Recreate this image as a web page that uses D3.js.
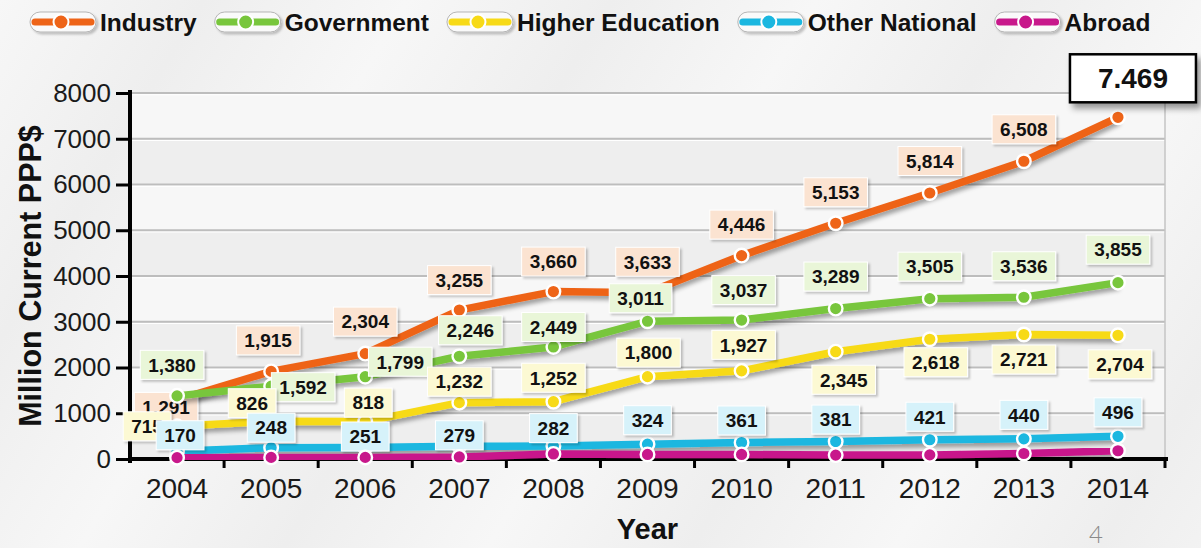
<!DOCTYPE html>
<html><head><meta charset="utf-8">
<script src="https://cdn.jsdelivr.net/npm/d3@7"></script>
<style>
body{margin:0;background:#f0f0f0;}
svg{display:block;font-family:Arial,"Liberation Sans",sans-serif;}
</style>
</head><body>
<svg id="c" width="1201" height="548"></svg>
<script>
// ---------- data ----------
const years = [2004,2005,2006,2007,2008,2009,2010,2011,2012,2013,2014];
const industry        = [1291,1915,2304,3255,3660,3633,4446,5153,5814,6508,7469];
const government      = [1380,1592,1799,2246,2449,3011,3037,3289,3505,3536,3855];
const higherEducation = [715,826,818,1232,1252,1800,1927,2345,2618,2721,2704];
const otherNational   = [170,248,251,279,282,324,361,381,421,440,496];
const abroad          = [30,35,35,45,110,100,100,85,90,120,180];
const yTicks = [0,1000,2000,3000,4000,5000,6000,7000,8000];
const seriesNames = ["Industry","Government","Higher Education","Other National","Abroad"];

// ---------- styling / layout (not data) ----------
const lineColors  = ["#ee6418","#78c63c","#f7da17","#1bb7e0","#c8188b"];
const labelFills  = ["#fbe3d1","#e9f6d8","#fcf9d3","#d6f2fa",null];
const labelOffsets = [
  [[-11,7],[-3,-31],[0,-32],[0,-30],[0,-30],[0,-31],[0,-31],[0,-31],[0,-32],[0,-32],null],
  [[-5,-31],[32,1],[35,-15],[11,-26],[0,-20],[-7,-23],[2,-30],[0,-32],[0,-32],[0,-31],[0,-33]],
  [[-30,0],[-19,-18],[3,-19],[0,-21],[0,-24],[1,-24],[2,-26],[8,28],[6,23],[0,25],[2,29]],
  [[3,-16],[0,-20],[0,-11],[0,-11],[0,-18],[0,-24],[0,-22],[0,-22],[0,-23],[0,-24],[0,-24]],
  null
];
const calloutOffset = [15,-39];

const series = seriesNames.map((name,i)=>({
  name, color: lineColors[i], fill: labelFills[i], offsets: labelOffsets[i],
  values: [industry,government,higherEducation,otherNational,abroad][i]
}));

const svg = d3.select("#c");
const defs = svg.append("defs");

const bg = defs.append("linearGradient").attr("id","bg")
  .attr("gradientUnits","userSpaceOnUse").attr("x1",0).attr("y1",0).attr("x2",150).attr("y2",90)
  .attr("spreadMethod","reflect");
bg.append("stop").attr("offset","0%").attr("stop-color","#f7f7f7");
bg.append("stop").attr("offset","100%").attr("stop-color","#eeeeee");

const shadow = defs.append("filter").attr("id","lineShadow")
  .attr("x","-10%").attr("y","-30%").attr("width","120%").attr("height","160%");
shadow.append("feDropShadow").attr("dx",1).attr("dy",4).attr("stdDeviation",2)
  .attr("flood-color","#000").attr("flood-opacity",0.35);
const boxShadow = defs.append("filter").attr("id","boxShadow")
  .attr("x","-20%").attr("y","-30%").attr("width","150%").attr("height","170%");
boxShadow.append("feDropShadow").attr("dx",2).attr("dy",2).attr("stdDeviation",1.2)
  .attr("flood-color","#000").attr("flood-opacity",0.22);
const callShadow = defs.append("filter").attr("id","callShadow")
  .attr("x","-20%").attr("y","-30%").attr("width","150%").attr("height","170%");
callShadow.append("feDropShadow").attr("dx",4).attr("dy",5).attr("stdDeviation",3)
  .attr("flood-color","#000").attr("flood-opacity",0.4);

svg.append("rect").attr("width",1201).attr("height",548).attr("fill","url(#bg)");

// ---------- scales ----------
const x = d3.scaleBand().domain(years).range([130,1165]).padding(0);
const cx = d => x(d) + x.bandwidth()/2;
const y = d3.scaleLinear().domain([0,8000]).range([459,93]);

// plot bands
const plot = svg.append("g");
plot.selectAll("rect.band").data(yTicks.slice(0,-1)).join("rect")
  .attr("x",x.range()[0]).attr("width",x.range()[1]-x.range()[0])
  .attr("y",d=>y(d+1000)).attr("height",d=>y(d)-y(d+1000))
  .attr("fill",(d,i)=> i%2===0 ? "#eeeeee" : "#f7f7f7");
plot.selectAll("line.grid").data(yTicks.slice(1)).join("line")
  .attr("x1",x.range()[0]).attr("x2",x.range()[1])
  .attr("y1",d=>y(d)).attr("y2",d=>y(d))
  .attr("stroke","#bdbdbd").attr("stroke-width",2);
plot.selectAll("line.gridw").data(yTicks.slice(1)).join("line")
  .attr("x1",x.range()[0]).attr("x2",x.range()[1])
  .attr("y1",d=>y(d)+1.8).attr("y2",d=>y(d)+1.8)
  .attr("stroke","#ffffff").attr("stroke-width",1);
plot.append("line").attr("x1",x.range()[1]).attr("x2",x.range()[1])
  .attr("y1",y(8000)).attr("y2",y(0)).attr("stroke","#c4c4c4").attr("stroke-width",1.5);

// ---------- axes ----------
const yAxis = svg.append("g").attr("transform",`translate(${x.range()[0]},0)`)
  .call(d3.axisLeft(y).tickValues(yTicks).tickFormat(d3.format("d")).tickSize(14).tickPadding(5).tickSizeOuter(0));
yAxis.select(".domain").attr("stroke","#000").attr("stroke-width",4).attr("d",`M0,${y(8000)-3}V${y(0)+4}`);
yAxis.selectAll(".tick line").attr("stroke","#000").attr("stroke-width",3);
yAxis.selectAll(".tick text").attr("font-size",26).attr("fill","#1a1a1a")
  .attr("font-family",'Arial,"Liberation Sans",sans-serif');

const xAxis = svg.append("g").attr("transform",`translate(0,${y(0)})`)
  .call(d3.axisBottom(x).tickSize(0).tickPadding(19));
xAxis.select(".domain").attr("stroke","#000").attr("stroke-width",4)
  .attr("d",`M${x.range()[0]-2},0H${x.range()[1]+3}`);
xAxis.selectAll(".tick text").attr("font-size",28).attr("fill","#1a1a1a")
  .attr("font-family",'Arial,"Liberation Sans",sans-serif');
xAxis.selectAll("line.bt").data(years.slice(1).map(d=>x(d)).concat([x.range()[1]])).join("line")
  .attr("x1",d=>d).attr("x2",d=>d).attr("y1",0).attr("y2",9)
  .attr("stroke","#000").attr("stroke-width",3);

// axis titles
svg.append("text").attr("transform",`translate(41,${(y(0)+y(8000))/2}) rotate(-90)`)
  .attr("text-anchor","middle").attr("font-size",30.5).attr("font-weight","bold").attr("fill","#111")
  .text("Million Current PPP$");
svg.append("text").attr("x",(x.range()[0]+x.range()[1])/2).attr("y",539)
  .attr("text-anchor","middle").attr("font-size",29).attr("font-weight","bold").attr("fill","#111")
  .text("Year");
svg.append("text").attr("x",1096).attr("y",543).attr("text-anchor","middle")
  .attr("font-size",24).attr("font-weight",300).attr("fill","#8a8a8a")
  .attr("font-family","Lato, 'Open Sans', sans-serif").text("4");

// ---------- series ----------
const line = d3.line().x((d,i)=>cx(years[i])).y(d=>y(d)).curve(d3.curveLinear);
const fmt = d3.format(",");

series.forEach((s,si)=>{
  const g = svg.append("g");
  g.append("path").attr("d",line(s.values)).attr("fill","none")
    .attr("stroke",s.color).attr("stroke-width",7.5).attr("stroke-linejoin","round")
    .attr("filter","url(#lineShadow)");
  g.selectAll("circle").data(s.values).join("circle")
    .attr("cx",(d,i)=>cx(years[i])).attr("cy",d=>y(d)).attr("r",6.8)
    .attr("fill",s.color).attr("stroke","#fff").attr("stroke-width",2.4);
  if(!s.offsets) return;
  s.values.forEach((v,i)=>{
    const off = s.offsets[i];
    if(!off) return;
    const lg = g.append("g").attr("transform",`translate(${cx(years[i])+off[0]},${y(v)+off[1]})`);
    const rect = lg.append("rect").attr("fill",s.fill).attr("stroke","#ffffff").attr("stroke-width",1)
      .attr("filter","url(#boxShadow)");
    const t = lg.append("text").attr("text-anchor","middle").attr("dy","0.36em")
      .attr("font-size",19).attr("font-weight","bold").attr("fill","#111").text(fmt(v));
    const w = t.node().getComputedTextLength()+16;
    rect.attr("x",-w/2).attr("y",-14.5).attr("width",w).attr("height",29);
  });
});

// callout for last industry value
const locDot = d3.formatLocale({decimal:",",thousands:".",grouping:[3],currency:["",""]});
const lastI = industry.length-1;
const cg = svg.append("g").attr("transform",
  `translate(${cx(years[lastI])+calloutOffset[0]},${y(industry[lastI])+calloutOffset[1]})`);
cg.append("rect").attr("x",-63).attr("y",-24).attr("width",126).attr("height",48)
  .attr("fill","#fff").attr("stroke","#000").attr("stroke-width",2.5).attr("filter","url(#callShadow)");
cg.append("text").attr("text-anchor","middle").attr("dy","0.36em").attr("font-size",28)
  .attr("font-weight","bold").attr("fill","#111").text(locDot.format(",")(industry[lastI]));

// ---------- legend ----------
const legend = svg.append("g");
let lx = 30;
series.forEach(s=>{
  const ig = legend.append("g").attr("transform",`translate(${lx},22)`);
  ig.append("rect").attr("x",0).attr("y",-10).attr("width",66).attr("height",20).attr("rx",10)
    .attr("fill","#fafafa").attr("stroke","#b5b5b5").attr("stroke-width",1).attr("filter","url(#boxShadow)");
  ig.append("line").attr("x1",5).attr("x2",61).attr("y1",0).attr("y2",0)
    .attr("stroke",s.color).attr("stroke-width",7).attr("stroke-linecap","round");
  ig.append("circle").attr("cx",31).attr("cy",0).attr("r",7.5)
    .attr("fill",s.color).attr("stroke","#fff").attr("stroke-width",2);
  const t = ig.append("text").attr("x",70).attr("y",9).attr("font-size",24.5).attr("font-weight","bold")
    .attr("fill","#111").text(s.name);
  lx += 70 + t.node().getComputedTextLength() + 18;
});
</script>
</body></html>
